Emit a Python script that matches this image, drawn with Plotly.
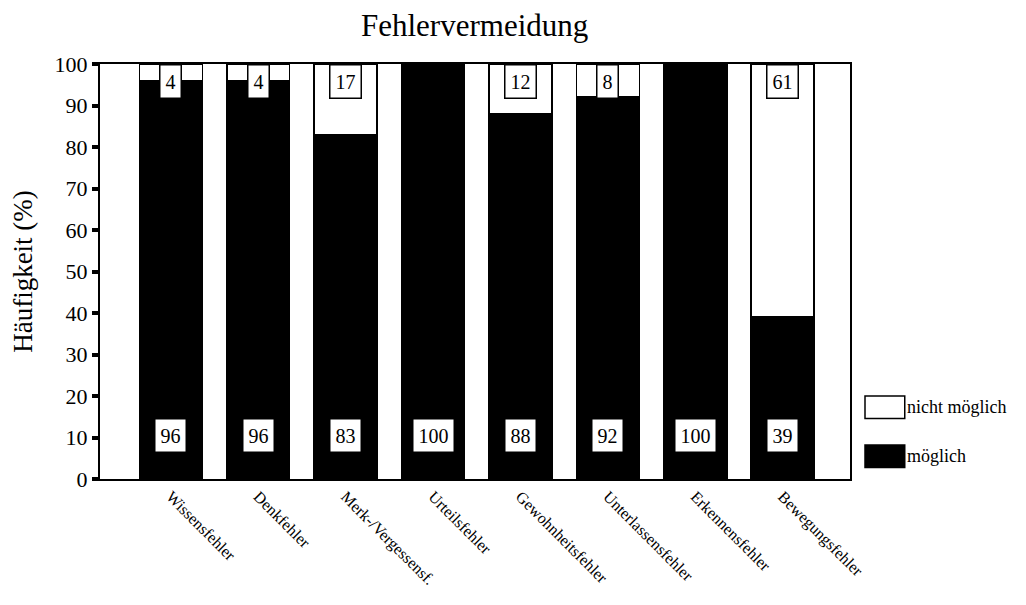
import plotly.graph_objects as go

categories = ["Wissensfehler", "Denkfehler", "Merk-/Vergessensf.", "Urteilsfehler",
              "Gewohnheitsfehler", "Unterlassensfehler", "Erkennensfehler", "Bewegungsfehler"]
moeglich = [96, 96, 83, 100, 88, 92, 100, 39]
nicht_moeglich = [4, 4, 17, 0, 12, 8, 0, 61]
y_ticks = [0, 10, 20, 30, 40, 50, 60, 70, 80, 90, 100]

SERIF = "Liberation Serif, Times New Roman, serif"

fig = go.Figure()
fig.add_trace(go.Bar(x=categories, y=moeglich, name="möglich",
                     marker=dict(color="black", line=dict(color="black", width=1.5))))
fig.add_trace(go.Bar(x=categories, y=nicht_moeglich, name="nicht möglich",
                     marker=dict(color="white", line=dict(color="black", width=1.5))))

# value boxes
for cat, m, n in zip(categories, moeglich, nicht_moeglich):
    fig.add_annotation(x=cat, y=10.4, text=str(m), showarrow=False,
                       font=dict(family=SERIF, size=20, color="black"),
                       bgcolor="white", bordercolor="black", borderwidth=1.5, borderpad=5)
    if n > 0:
        fig.add_annotation(x=cat, y=95.7, text=str(n), showarrow=False,
                           font=dict(family=SERIF, size=20, color="black"),
                           bgcolor="white", bordercolor="black", borderwidth=1.5, borderpad=5)

# custom legend
legend_items = [("nicht möglich", "white", 0.173), ("möglich", "black", 0.055)]
for label, color, yc in legend_items:
    fig.add_shape(type="rect", xref="paper", yref="paper",
                  x0=1.02, x1=1.073, y0=yc - 0.027, y1=yc + 0.027,
                  fillcolor=color, line=dict(color="black", width=1.5))
    fig.add_annotation(xref="paper", yref="paper", x=1.073, y=yc, text=label,
                       showarrow=False, xanchor="left", yanchor="middle",
                       font=dict(family=SERIF, size=18, color="black"))

fig.update_layout(
    barmode="stack",
    bargap=0.28,
    width=1010, height=589,
    margin=dict(l=92, r=168, t=56, b=118),
    paper_bgcolor="white", plot_bgcolor="white",
    showlegend=False,
    title=dict(text="Fehlervermeidung", x=0.462, xanchor="center", y=0.971, yanchor="middle",
               font=dict(family=SERIF, size=31, color="black")),
    font=dict(family=SERIF, color="black"),
)
fig.update_xaxes(range=[-0.81, 7.77], showline=True, linecolor="black", linewidth=2,
                 mirror=True, ticks="", tickangle=45, automargin=False,
                 tickfont=dict(family=SERIF, size=16, color="black"), showgrid=False)
fig.update_yaxes(range=[0, 100], tickvals=y_ticks, showline=True, linecolor="black",
                 linewidth=2, mirror=True, ticks="outside", ticklen=6, tickwidth=4,
                 tickcolor="black", showgrid=False, zeroline=False, automargin=False,
                 tickfont=dict(family=SERIF, size=22, color="black"),
                 title=dict(text="Häufigkeit (%)", font=dict(family=SERIF, size=27, color="black"),
                            standoff=16))

fig.write_html("out.html")
